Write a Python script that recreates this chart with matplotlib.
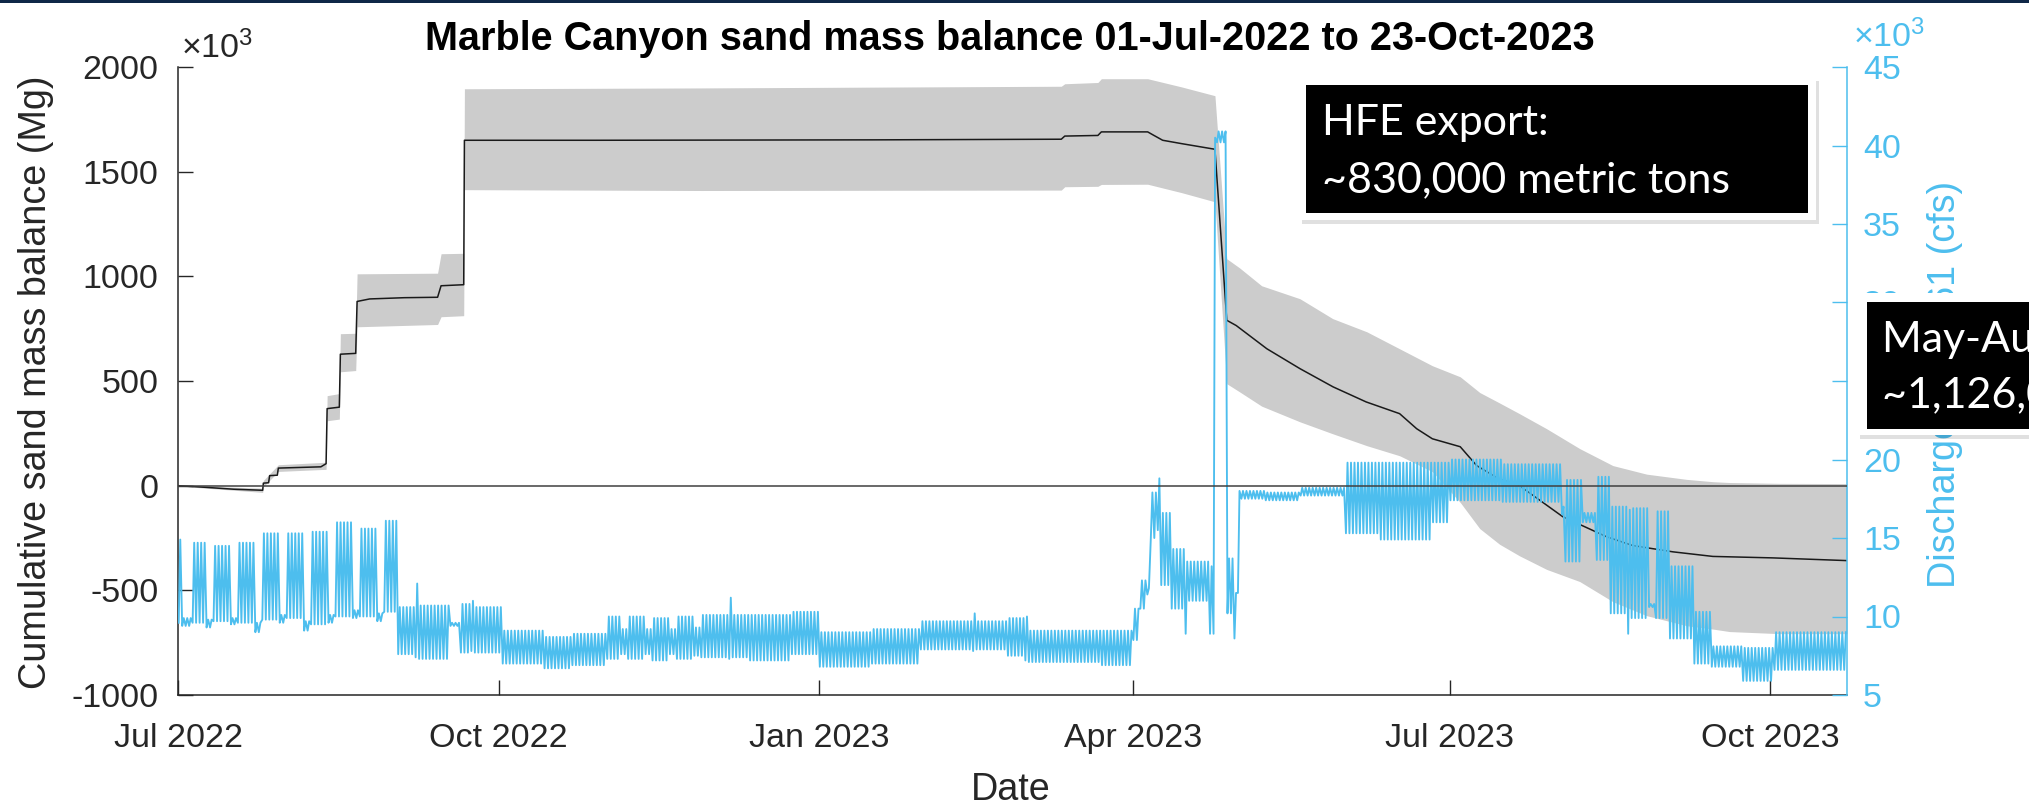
import numpy as np
import matplotlib.pyplot as plt
import matplotlib.dates as mdates
from matplotlib.patches import Rectangle
from matplotlib.transforms import blended_transform_factory

plt.rcParams['font.family'] = ['Liberation Sans', 'DejaVu Sans']
plt.rcParams['mathtext.fontset'] = 'custom'
plt.rcParams['mathtext.rm'] = 'Liberation Sans'
plt.rcParams['mathtext.it'] = 'Liberation Sans:italic'
plt.rcParams['axes.unicode_minus'] = False

t0 = np.datetime64('2022-07-01')
t_end = 479  # 23-Oct-2023

# cumulative sand mass balance (x1000 Mg), days after 01-Jul-2022
mb_day = [0, 8, 16, 24.3, 24.5, 26, 26.3, 28.5, 28.8, 41, 42.5, 42.8, 46.3, 46.6, 51,
          51.4, 55, 65, 74.5, 75.5, 82, 82.2, 120, 200, 253.5, 254.5, 264, 265, 278.3, 280,
          282.6, 288, 297.6, 301, 303.7, 312.5, 322, 331.5, 341, 350.6, 355.5, 360, 368,
          372.7, 379, 385, 397.4, 410, 417.5, 429, 440.5, 457.7, 479]
mb_val = [0, -8, -17, -22, 12, 14, 48, 50, 84, 90, 105, 368, 375, 628, 632,
          880, 892, 898, 900, 955, 960, 1650, 1650, 1652, 1655, 1670, 1673, 1690, 1690, 1674,
          1650, 1634, 1607, 790, 765, 654, 559, 472, 400, 344, 272, 224, 186,
          96, 33, 0, -148, -244, -286, -316, -338, -345, -358]

# uncertainty envelope of the mass balance
env_day = [0, 24.3, 24.5, 28.8, 42.5, 42.8, 46.3, 46.6, 51, 51.4, 74.5, 75.5, 82, 82.2, 150,
           253.5, 254.5, 264, 265, 278.3, 288, 297.6, 301, 304.7, 311, 322, 331.4, 341.2,
           350.6, 360, 368, 373.6, 379.3, 385, 392.8, 402.3, 411.8, 421.5, 433, 440.5,
           445.3, 459.7, 479]
env_lo = [-2, -32, -5, 68, 78, 310, 318, 544, 550, 759, 770, 807, 812, 1414, 1410,
          1412, 1428, 1430, 1439, 1440, 1400, 1356, 487, 448, 380, 305, 248, 191,
          143, 67, -80, -205, -280, -335, -400, -458, -554, -621, -669, -685,
          -697, -707, -707]
env_hi = [2, -12, 25, 100, 112, 430, 440, 726, 728, 1012, 1015, 1108, 1110, 1896, 1900,
          1908, 1920, 1926, 1944, 1944, 1905, 1863, 1084, 1040, 955, 893, 798, 735,
          654, 573, 520, 445, 395, 344, 272, 177, 96, 55, 30, 19,
          15, 11, 10]

# discharge (x1000 cfs): runs of days starting at q_day, with daily low / high flow
q_day = [0, 1, 4, 8, 10, 15, 17, 22, 24, 29, 31, 36, 38, 43, 45, 50, 52, 57, 59,
         63, 68, 69, 78, 81, 84, 85, 93, 105, 113, 123, 127, 129, 134, 136, 141, 143, 148,
         150, 158, 159, 164, 176, 184, 199, 213, 228, 229, 238, 243, 244, 265,
         274, 276, 278, 279, 281, 282, 285, 289, 290, 296, 297, 298, 301, 303, 304, 305,
         312, 322, 335, 345, 360, 365, 380, 397, 398, 403, 407, 411, 416, 417, 422, 424,
         428, 435, 440, 449, 458]
q_low = [9.6, 9.4, 9.6, 9.3, 9.7, 9.5, 9.6, 9.0, 9.8, 9.6, 9.9, 9.1, 9.5, 9.6, 10.0, 9.9, 10.0, 9.7, 10.3,
         7.6, 7.4, 7.3, 9.4, 7.7, 7.8, 7.7, 7.0, 6.7, 6.9, 7.3, 7.6, 7.3, 7.6, 7.2, 7.6, 7.3, 7.5,
         7.4, 7.3, 7.4, 7.2, 7.6, 6.8, 7.0, 7.9, 7.8, 7.9, 7.5, 7.2, 7.1, 6.9,
         8.5, 10.5, 11.4, 15.0, 15.5, 12.0, 10.5, 8.9, 11.0, 8.9, 8.9, 40.2, 10.2, 8.6, 11.5, 17.5,
         17.4, 17.7, 15.3, 14.9, 16.0, 17.4, 17.3, 16.5, 13.5, 16.0, 13.6, 10.2, 8.9, 9.9, 10.6, 9.9,
         8.6, 7.0, 6.8, 5.9, 6.6]
q_high = [14.9, 9.9, 14.7, 9.8, 14.5, 9.9, 14.7, 9.6, 15.3, 10.1, 15.3, 9.7, 15.4, 10.1, 16.0, 10.4, 15.6, 10.2, 16.1,
          10.6, 12.1, 10.7, 9.6, 10.8, 11.0, 10.6, 9.1, 8.7, 8.9, 10.0, 9.2, 10.0, 9.2, 9.9, 9.2, 10.0, 9.3,
          10.1, 11.2, 10.1, 10.1, 10.3, 9.0, 9.2, 9.7, 10.2, 9.7, 9.9, 10.0, 9.1, 9.1,
          10.5, 12.3, 11.8, 17.9, 18.8, 16.6, 14.3, 13.5, 13.5, 13.2, 40.5, 40.9, 13.7, 11.5, 18.0, 18.0,
          17.9, 18.2, 19.8, 19.8, 19.8, 20.0, 19.7, 17.0, 18.7, 16.6, 18.9, 17.0, 16.8, 16.9, 10.8, 16.7,
          13.2, 10.3, 8.1, 8.0, 9.0]

tick_dates = ['2022-07-01', '2022-10-01', '2023-01-01', '2023-04-01', '2023-07-01', '2023-10-01']
tick_labels = ['Jul 2022', 'Oct 2022', 'Jan 2023', 'Apr 2023', 'Jul 2023', 'Oct 2023']

W, H = 2029, 808
dark = '#262626'
blue = '#4DBEEE'


def fx(px):
    return px / W


def fy(py):
    return 1 - py / H


base = mdates.date2num(t0)

fig = plt.figure(figsize=(W / 100, H / 100), dpi=100, facecolor='white')
ax = fig.add_axes([fx(178), fy(695), fx(1847) - fx(178), fy(67) - fy(695)])
ax2 = ax.twinx()

ax.fill_between(base + np.array(env_day), env_lo, env_hi, color='#cccccc', lw=0, zorder=1)
ax.plot(base + np.array(mb_day), mb_val, color='#1a1a1a', lw=1.1, zorder=2)

# one rise and fall per day between the daily low and high
qx, qy = [], []
bounds = q_day + [t_end]
for i in range(len(q_day)):
    for d in range(bounds[i], bounds[i + 1]):
        qx += [d + 0.2, d + 0.65]
        qy += [q_low[i], q_high[i]]
ax2.plot(base + np.array(qx), qy, color=blue, lw=1.35)

# zero line of the mass balance, drawn above the discharge
tr = blended_transform_factory(ax.transAxes, ax.transData)
ax2.plot([0, 1], [0, 0], transform=tr, color='#404040', lw=1.1, zorder=5)

ax.set_xlim(base, base + t_end)
ax.set_ylim(-1000, 2000)
ax2.set_ylim(5, 45)
ax.set_xticks([mdates.date2num(np.datetime64(d)) for d in tick_dates])
ax.set_xticklabels(tick_labels)
ax.set_yticks(np.arange(-1000, 2001, 500))
ax2.set_yticks(np.arange(5, 46, 5))

for s in ['top', 'right']:
    ax.spines[s].set_visible(False)
for s in ['top', 'left', 'bottom']:
    ax2.spines[s].set_visible(False)
for s in ['left', 'bottom']:
    ax.spines[s].set_color(dark)
    ax.spines[s].set_linewidth(1.1)
ax2.spines['right'].set_color(blue)
ax2.spines['right'].set_linewidth(1.1)

ax.tick_params(axis='both', direction='in', length=10.8, width=1.0, colors=dark, labelsize=24.5)
ax.tick_params(axis='x', pad=20, top=False)
ax.tick_params(axis='y', pad=14, right=False)
ax2.tick_params(axis='y', direction='in', length=10.8, width=1.0, colors=blue, labelsize=24.5, pad=11.5)

fig.text(fx(1010), fy(50), 'Marble Canyon sand mass balance 01-Jul-2022 to 23-Oct-2023',
         ha='center', va='baseline', fontsize=28.5, weight='bold', color='black')
fig.text(fx(36), fy(382), 'Cumulative sand mass balance (Mg)', rotation=90,
         ha='center', va='center', fontsize=27.2, color=dark)
fig.text(fx(1945), fy(384), 'Discharge at RM61 (cfs)', rotation=90,
         ha='center', va='center', fontsize=27.2, color=blue)
fig.text(fx(1011), fy(800), 'Date', ha='center', va='baseline', fontsize=27.2, color=dark)
fig.text(fx(181), fy(58), r'$\times10^{3}$', ha='left', va='baseline', fontsize=24.5, color=dark)
fig.text(fx(1853), fy(47), r'$\times10^{3}$', ha='left', va='baseline', fontsize=24.5, color=blue)

# slide border line along the top
fig.add_artist(Rectangle((0, fy(2.5)), 1, fy(0) - fy(2.5), transform=fig.transFigure,
                         color='#0f2747', lw=0, zorder=20))


def rect(l, t, r, b, **kw):
    fig.add_artist(Rectangle((fx(l), fy(b)), fx(r) - fx(l), fy(t) - fy(b),
                             transform=fig.transFigure, lw=0, **kw))


# callout boxes
rect(1302, 81, 1819, 224, color='black', alpha=0.12, zorder=10)
rect(1300, 78, 1816, 220, color='white', zorder=11)
rect(1306, 85, 1808, 213, color='black', zorder=12)
fig.text(fx(1322), fy(135), 'HFE export:', color='white', fontsize=31, family='Lato',
         va='baseline', zorder=13)
fig.text(fx(1322), fy(192), '~830,000 metric tons', color='white', fontsize=31, family='Lato',
         va='baseline', zorder=13)

rect(1860, 296, 2029, 439, color='black', alpha=0.12, zorder=10)
rect(1858, 293, 2029, 435, color='white', zorder=11)
rect(1867, 302, 2029, 429, color='black', zorder=12)
fig.text(fx(1882), fy(352), 'May-Aug export:', color='white', fontsize=31, family='Lato',
         va='baseline', zorder=13)
fig.text(fx(1882), fy(407), '~1,126,000 metric tons', color='white', fontsize=31, family='Lato',
         va='baseline', zorder=13)

fig.savefig('out.png', dpi=100, facecolor='white')
